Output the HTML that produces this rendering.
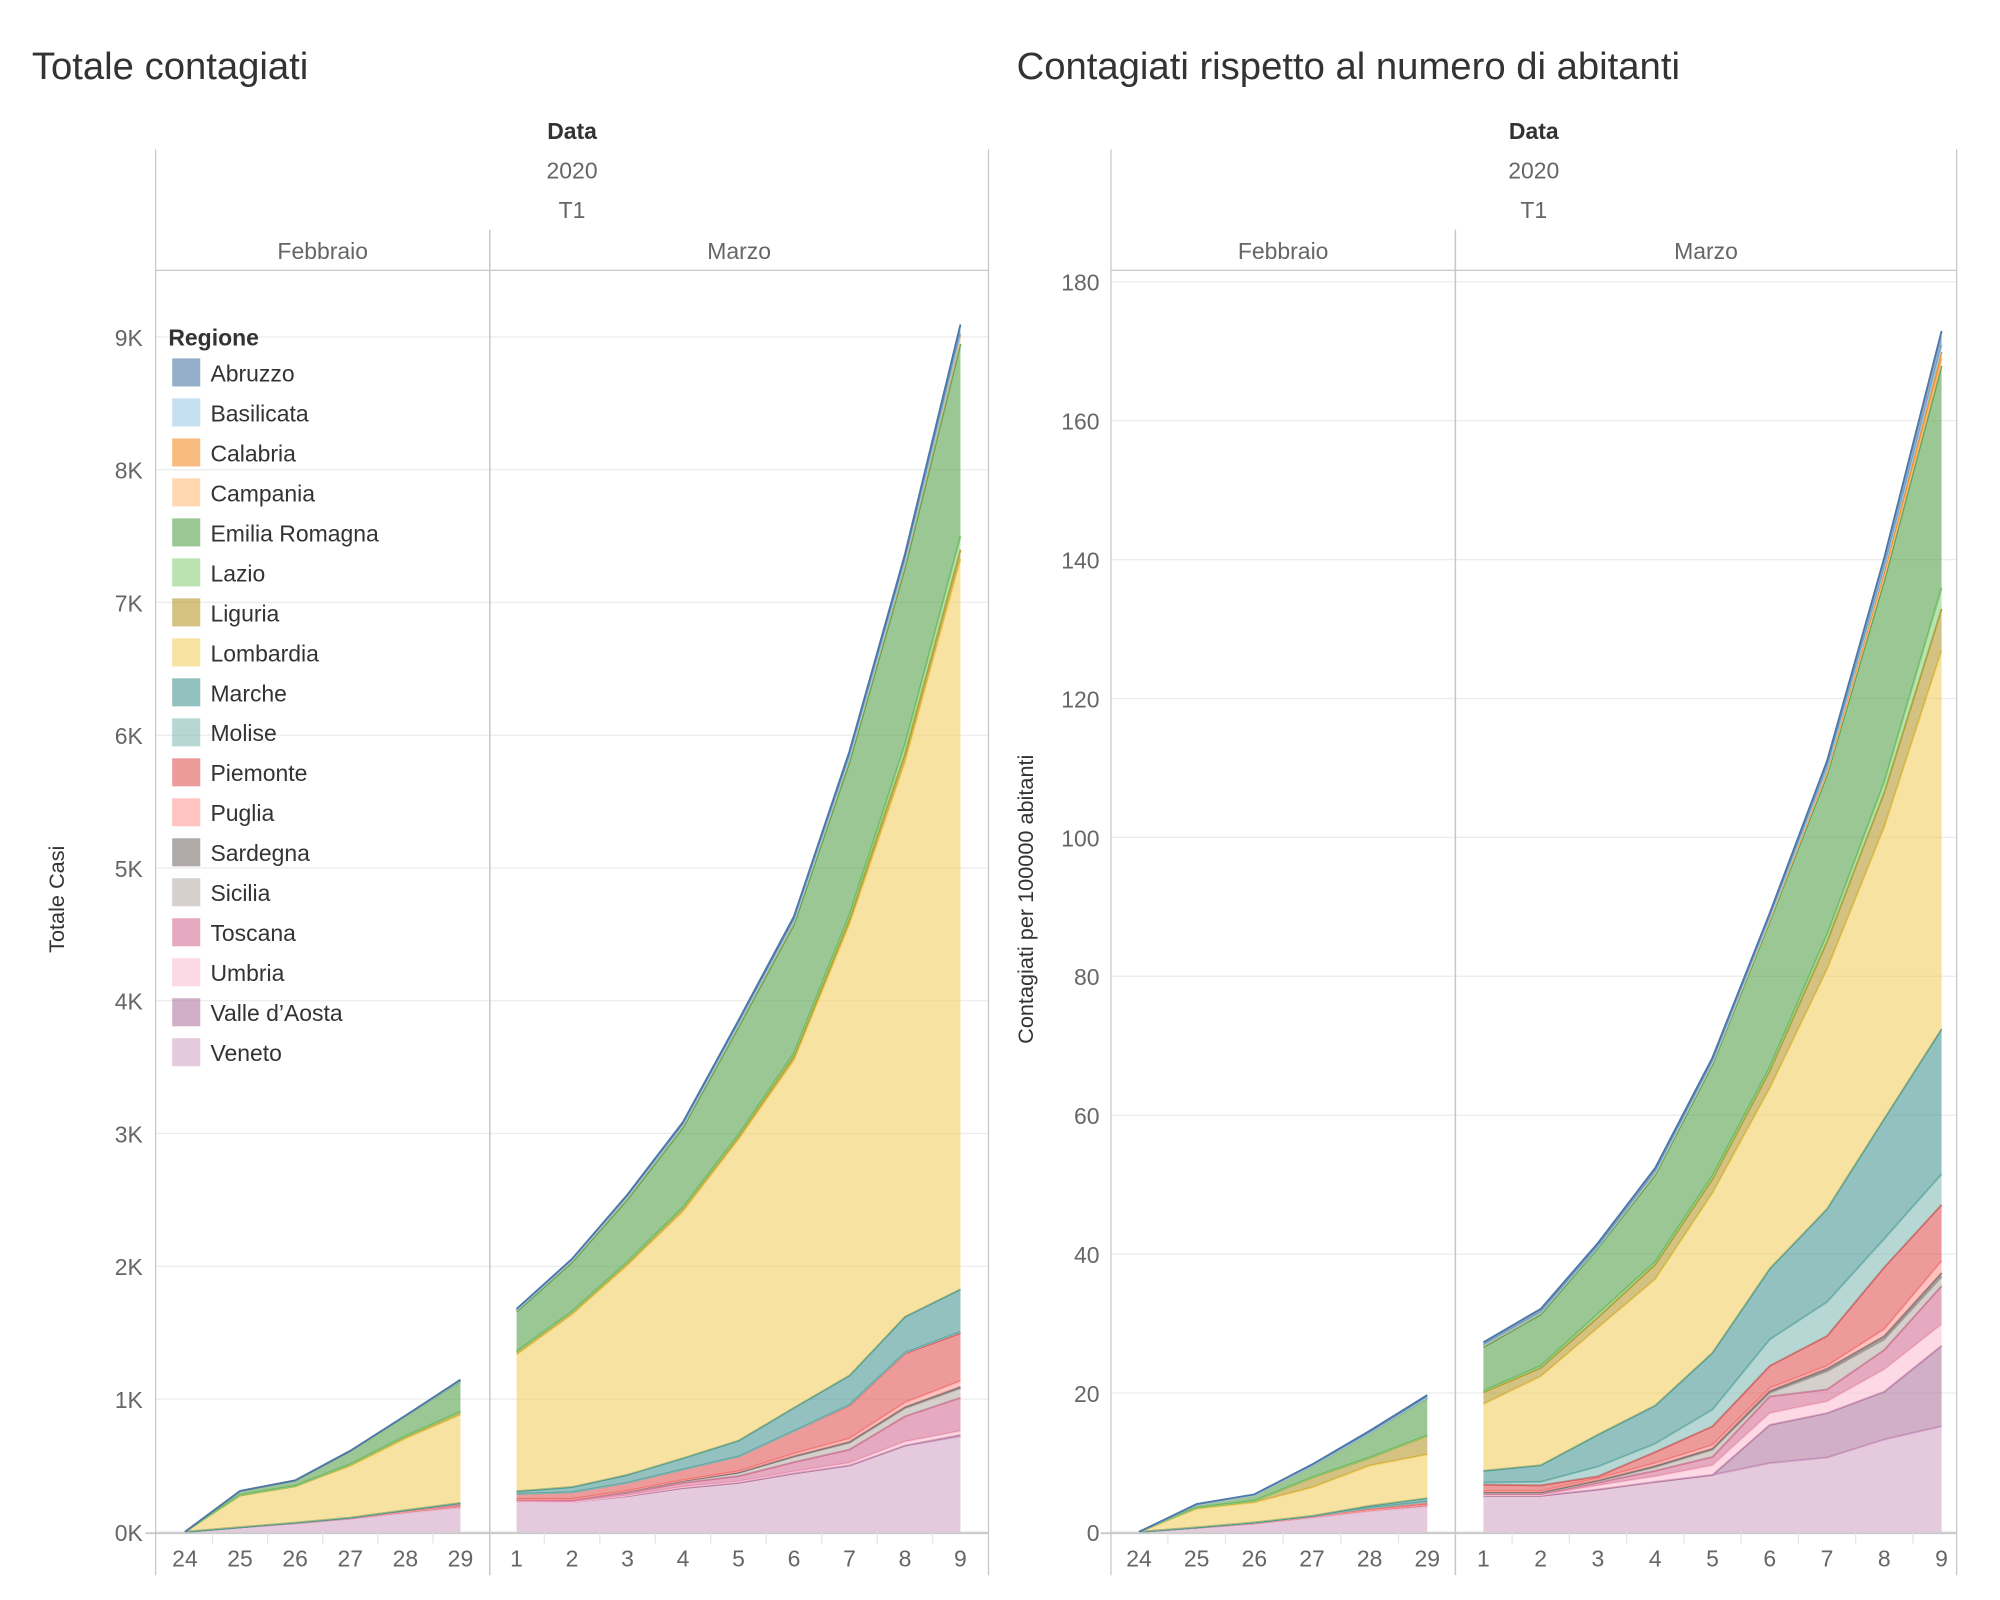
<!DOCTYPE html>
<html><head><meta charset="utf-8"><style>
html,body{margin:0;padding:0;background:#fff;}
svg{display:block;font-family:"Liberation Sans","DejaVu Sans",sans-serif;}
</style></head><body>
<svg id="chart" width="2000" height="1600" viewBox="0 0 1568 1254.4" preserveAspectRatio="none" xmlns="http://www.w3.org/2000/svg">
<text x="25" y="62" font-size="30" fill="#333">Totale contagiati</text>
<text x="797" y="62" font-size="30" fill="#333">Contagiati rispetto al numero di abitanti</text>
<g id="left"></g>
<g id="right"></g>
<g id="legend"></g>
</svg>
<script>
const regions = ["Abruzzo","Basilicata","Calabria","Campania","Emilia Romagna","Lazio","Liguria","Lombardia","Marche","Molise","Piemonte","Puglia","Sardegna","Sicilia","Toscana","Umbria","Valle d\u2019Aosta","Veneto"];
const colors = ["#4e79a7","#a0cbe8","#f28e2b","#ffbe7d","#59a14f","#8cd17d","#b6992d","#f1ce63","#499894","#86bcb6","#e15759","#ff9d9a","#79706e","#bab0ac","#d37295","#fabfd2","#b07aa1","#d4a6c8"];
const febDays = ["24","25","26","27","28","29"];
const marDays = ["1","2","3","4","5","6","7","8","9"];
const leftTicks = [0,1000,2000,3000,4000,5000,6000,7000,8000,9000];
const leftTickLabels = ["0K","1K","2K","3K","4K","5K","6K","7K","8K","9K"];
const rightTicks = [0,20,40,60,80,100,120,140,160,180];
// Totale casi: 15 dates (Feb 24-29, Mar 1-9)
const casesAbruzzo   = [0,0,0,0,2,5, 10,10,15,20,25,30,40,50,70];
const casesBasilicata= [0,0,0,0,0,0, 0,0,0,0,0,0,0,2,3];
const casesCalabria  = [0,0,0,0,0,0, 0,0,1,1,1,1,1,2,3];
const casesCampania  = [0,0,0,0,2,5, 10,15,20,20,25,30,40,50,70];
const casesEmilia    = [0,30,40,100,150,230, 300,370,470,600,810,970,1150,1330,1450];
const casesLazio     = [0,3,3,3,3,3, 3,3,5,6,10,20,30,70,100];
const casesLiguria   = [0,0,0,10,15,20, 20,20,20,25,25,30,40,60,70];
const casesLombardia = [0,240,275,390,540,665, 1030,1300,1580,1860,2270,2620,3400,4180,5500];
const casesMarche    = [0,0,0,0,0,5, 20,40,60,85,120,175,220,270,320];
const casesMolise    = [0,0,0,0,0,0, 0,0,0,0,0,0,5,5,10];
const casesPiemonte  = [0,0,2,3,10,15, 40,50,60,80,110,170,250,370,360];
const casesPuglia    = [0,0,0,0,0,0, 0,0,3,5,10,20,25,35,45];
const casesSardegna  = [0,0,0,0,0,0, 0,0,0,0,2,5,8,10,12];
const casesSicilia   = [0,0,0,2,3,5, 6,8,12,15,25,40,50,60,70];
const casesToscana   = [0,0,2,2,5,8, 10,15,20,30,40,70,100,190,250];
const casesUmbria    = [0,0,0,0,0,0, 0,0,5,10,10,15,20,30,30];
const casesValle     = [0,0,0,0,0,0, 0,0,0,0,0,0,0,0,10];
const casesVeneto    = [0,35,65,100,145,185, 230,225,270,330,370,440,500,650,720];
// per 100000 abitanti
const rateAbruzzo   = [0,0.1,0.1,0.2,0.3,0.3, 0.4,0.5,0.5,0.6,0.6,0.6,1,1.5,2];
const rateBasilicata= [0,0,0,0,0,0, 0,0,0,0,0,0.1,0.2,0.5,1];
const rateCalabria  = [0,0,0,0,0,0, 0,0,0,0.1,0.1,0.2,0.3,0.5,1];
const rateCampania  = [0,0,0,0.05,0.05,0.1, 0.3,0.3,0.2,0.3,0.3,0.3,0.5,0.8,1];
const rateEmilia    = [0,0.4,0.8,1.6,3.5,5.4, 6.3,7.4,9.5,12.5,16,21,23,29,32];
const rateLazio     = [0,0.05,0.05,0.05,0.05,0.05, 0.2,0.3,0.5,0.4,0.5,0.5,1,1.5,3];
const rateLiguria   = [0,0.1,0.2,1.4,1.1,2.7, 1.7,1.2,1.5,2.1,2,2.5,4,5,6];
const rateLombardia = [0,2.7,2.9,4.1,5.8,6.3, 9.6,12.8,15.4,18.2,23,26,34.5,42,54.5];
const rateMarche    = [0,0,0,0,0.3,0.5, 1.7,2.4,4.6,5.5,8.2,10.2,13.4,17.3,20.9];
const rateMolise    = [0,0,0,0,0,0, 0.3,0.5,1.4,1.2,2.4,3.8,4.9,4.1,4.4];
const ratePiemonte  = [0,0.05,0.1,0.1,0.3,0.4, 0.9,0.8,0.3,1.6,2.7,3.2,4.3,8.9,8.1];
const ratePuglia    = [0,0,0,0,0,0, 0.2,0.2,0.3,0.4,0.5,0.4,0.4,1.0,1.7];
const rateSardegna  = [0,0,0,0,0,0, 0.1,0.1,0.1,0.2,0.2,0.3,0.4,0.5,0.6];
const rateSicilia   = [0,0,0,0.05,0.05,0.1, 0.1,0.1,0.2,0.5,1.0,0.5,2.6,1.5,1.3];
const rateToscana   = [0,0,0.05,0.05,0.1,0.15, 0.2,0.2,0.4,0.8,1.2,2.4,1.7,2.8,5.5];
const rateUmbria    = [0,0,0,0,0,0, 0.1,0.1,0.6,0.8,1.4,1.7,1.7,3.2,3.1];
const rateValle     = [0,0,0,0,0,0, 0,0,0,0,0,5.5,6.4,6.9,11.6];
const rateVeneto    = [0,0.6,1.2,2.1,3.0,3.7, 5.2,5.2,6.1,7.2,8.2,9.9,10.7,13.3,15.2];

const casesSeries = [casesAbruzzo,casesBasilicata,casesCalabria,casesCampania,casesEmilia,casesLazio,casesLiguria,casesLombardia,casesMarche,casesMolise,casesPiemonte,casesPuglia,casesSardegna,casesSicilia,casesToscana,casesUmbria,casesValle,casesVeneto];
const rateSeries = [rateAbruzzo,rateBasilicata,rateCalabria,rateCampania,rateEmilia,rateLazio,rateLiguria,rateLombardia,rateMarche,rateMolise,ratePiemonte,ratePuglia,rateSardegna,rateSicilia,rateToscana,rateUmbria,rateValle,rateVeneto];

const NS = "http://www.w3.org/2000/svg";
function mk(parent, tag, attrs, text) {
  const e = document.createElementNS(NS, tag);
  for (const k in attrs) e.setAttribute(k, attrs[k]);
  if (text !== undefined) e.textContent = text;
  parent.appendChild(e);
  return e;
}

function drawChart(g, cfg) {
  const {L, D, R, series, ticks, tickLabels, yScale, xFeb, xMar, ytitle, ytitleX, labelX} = cfg;
  const line = (x1,y1,x2,y2,c,w) => mk(g,"line",{x1,y1,x2,y2,stroke:c,"stroke-width":w||1});
  let t;
  t = mk(g,"text",{x:(L+R)/2,y:109,"font-size":18,"font-weight":"bold","text-anchor":"middle",fill:"#333"},"Data");
  
  
  t = mk(g,"text",{x:(L+R)/2,y:140,"font-size":18,"text-anchor":"middle",fill:"#666"},"2020");
  
  
  t = mk(g,"text",{x:(L+R)/2,y:171,"font-size":18,"text-anchor":"middle",fill:"#666"},"T1");
  
  
  t = mk(g,"text",{x:(L+D)/2,y:203,"font-size":18,"text-anchor":"middle",fill:"#666"},"Febbraio");
  
  
  t = mk(g,"text",{x:(D+R)/2,y:203,"font-size":18,"text-anchor":"middle",fill:"#666"},"Marzo");
  
  
  ticks.forEach((v,i)=>{
    const y = yScale(v);
    const gl = line(L, y, R, y, "#ececec", 1);
    
    
    const tl = mk(g,"text",{x:labelX,y:y+7,"font-size":18,"text-anchor":"end",fill:"#666"},tickLabels[i]);
    
    
  });
  const n = series[0].length;
  const cum = [];
  let base = new Array(n).fill(0);
  for (let r = series.length-1; r >= 0; r--) {
    const top = base.map((b,j)=>b+series[r][j]);
    cum[r] = {lo: base, hi: top};
    base = top;
  }
  const panes = [{xs: febDays.map((d,i)=>xFeb(i)), off:0, name:'feb'}, {xs: marDays.map((d,i)=>xMar(i)), off:6, name:'mar'}];
  panes.forEach(p=>{
    for (let r = series.length-1; r >= 0; r--) {
      const c = cum[r];
      let pts = [];
      p.xs.forEach((x,i)=>pts.push(x+","+yScale(c.hi[p.off+i])));
      for (let i = p.xs.length-1; i >= 0; i--) pts.push(p.xs[i]+","+yScale(c.lo[p.off+i]));
      const a = mk(g,"polygon",{points:pts.join(" "),fill:colors[r],"fill-opacity":0.6,stroke:"none"});
      
      
      const lp = p.xs.map((x,i)=>x+","+yScale(c.hi[p.off+i])).join(" ");
      const l = mk(g,"polyline",{points:lp,fill:"none",stroke:colors[r],"stroke-width":1.5});
      
      
    }
  });
  const y0 = yScale(0);
  line(L,117,L,1235,"#c8c8c8",1);
  line(D,180,D,1235,"#c8c8c8",1.2);
  line(R,117,R,1235,"#c8c8c8",1);
  line(L,212,R,212,"#c8c8c8",1);
  line(L-8,y0+1,R,y0+1,"#c8c8c8",1.5);
  febDays.forEach((d,i)=>{
    const tl = mk(g,"text",{x:xFeb(i),y:1228,"font-size":18,"text-anchor":"middle",fill:"#666"},d);
    
    
    if (i>0) line((xFeb(i)+xFeb(i-1))/2,y0+1,(xFeb(i)+xFeb(i-1))/2,y0+9,"#e4e4e4",1);
  });
  marDays.forEach((d,i)=>{
    const tl = mk(g,"text",{x:xMar(i),y:1228,"font-size":18,"text-anchor":"middle",fill:"#666"},d);
    
    
    if (i>0) line((xMar(i)+xMar(i-1))/2,y0+1,(xMar(i)+xMar(i-1))/2,y0+9,"#e4e4e4",1);
  });
  const yt = mk(g,"text",{x:ytitleX,y:705,"font-size":17,"text-anchor":"middle",fill:"#333",transform:"rotate(-90 "+ytitleX+" 705)"},ytitle);
  
  
}

drawChart(document.getElementById("left"), {
  L:122, D:384, R:775, series:casesSeries, ticks:leftTicks, tickLabels:leftTickLabels,
  yScale: v => 1201 - v/1000*104.1,
  xFeb: i => 145 + i*43.2, xMar: i => 405 + i*43.5,
  ytitle:"Totale Casi", ytitleX:50, labelX:112
});
drawChart(document.getElementById("right"), {
  L:871, D:1141, R:1534, series:rateSeries, ticks:rightTicks, tickLabels:rightTicks.map(String),
  yScale: v => 1201 - v*5.445,
  xFeb: i => 893 + i*45.2, xMar: i => 1163 + i*44.9,
  ytitle:"Contagiati per 100000 abitanti", ytitleX:810, labelX:862
});
(function(){
  const g = document.getElementById("legend");
  const t = mk(g,"text",{x:132,y:271,"font-size":18,"font-weight":"bold",fill:"#333"},"Regione");
  
  
  regions.forEach((r,i)=>{
    const y = 292 + i*31.35;
    const e = mk(g,"g",{});
    
    
    mk(e,"rect",{x:135,y:y-11,width:22,height:22,fill:colors[i],"fill-opacity":0.6});
    mk(e,"text",{x:165,y:y+7,"font-size":18,fill:"#333"},r);
  });
})();
</script>
</body></html>
